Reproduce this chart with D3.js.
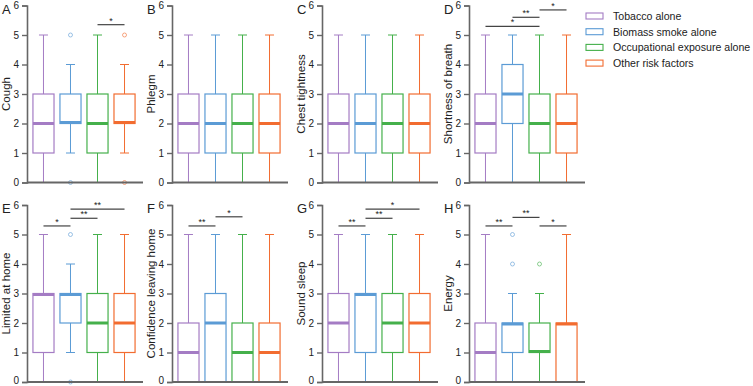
<!DOCTYPE html>
<html><head><meta charset="utf-8">
<script src="https://cdn.jsdelivr.net/npm/d3@7"></script>
<style>body{margin:0;background:#fff}svg{display:block;font-family:"Liberation Sans",Arial,sans-serif}</style>
</head><body><svg id="c" width="753" height="386"></svg>
<script>
const categories = ["Tobacco alone","Biomass smoke alone","Occupational exposure alone","Other risk factors"];
const colors = ["#a47cc4","#5b9bd5","#45b04b","#f26c30"];
const panelLetters = ["A","B","C","D","E","F","G","H"];
const panelTitles = ["Cough","Phlegm","Chest tightness","Shortness of breath","Limited at home","Confidence leaving home","Sound sleep","Energy"];
const yTicks = [0,1,2,3,4,5,6];
// [whisker low, q1, median, q3, whisker high] per category
const cough = [[0,1,2,3,5],[1,2,2,3,4],[0,1,2,3,5],[1,2,2,3,4]];
const phlegm = [[0,1,2,3,5],[0,1,2,3,5],[0,1,2,3,5],[0,1,2,3,5]];
const chest = [[0,1,2,3,5],[0,1,2,3,5],[0,1,2,3,5],[0,1,2,3,5]];
const breath = [[0,1,2,3,5],[0,2,3,4,5],[0,1,2,3,5],[0,1,2,3,5]];
const limited = [[0,1,3,3,5],[1,2,3,3,4],[0,1,2,3,5],[0,1,2,3,5]];
const confidence = [[0,0,1,2,5],[0,0,2,3,5],[0,0,1,2,5],[0,0,1,2,5]];
const sleep = [[0,1,2,3,5],[0,1,3,3,5],[0,1,2,3,5],[0,1,2,3,5]];
const energy = [[0,0,1,2,5],[0,1,2,2,3],[0,1,1,2,3],[0,0,2,2,5]];
// outliers per category
const coughOut = [[],[0,5],[],[0,5]];
const limitedOut = [[],[0,5],[],[]];
const energyOut = [[],[4,5],[4],[]];
const noOut = [[],[],[],[]];
// significance: [from, to, label, level]
const coughSig = [[2,3,"*",5.35]];
const breathSig = [[0,2,"*",5.29],[1,2,"**",5.6],[2,3,"*",5.85]];
const limitedSig = [[0,1,"*",5.29],[1,2,"**",5.55],[1,3,"**",5.86]];
const confidenceSig = [[0,1,"**",5.29],[1,2,"*",5.6]];
const sleepSig = [[0,1,"**",5.29],[1,2,"**",5.55],[1,3,"*",5.86]];
const energySig = [[0,1,"**",5.29],[1,2,"**",5.58],[2,3,"*",5.29]];

const stats = [cough,phlegm,chest,breath,limited,confidence,sleep,energy];
const outs = [coughOut,noOut,noOut,noOut,limitedOut,noOut,noOut,energyOut];
const sigs = [coughSig,[],[],breathSig,limitedSig,confidenceSig,sleepSig,energySig];

const svg = d3.select("#c");
const axisX = [27,172,322,469];
const rowY = [[182.5,5.5],[382,205]];
const W = 114;
const axisCol = "#666";

stats.forEach((st,p)=>{
  const col = p%4, row = Math.floor(p/4);
  const ox = axisX[col];
  const x = d3.scaleBand().domain(categories).range([ox, ox+W]).paddingInner(0.22).paddingOuter(0.22);
  const y = d3.scaleLinear().domain([0,6]).range(rowY[row]);
  const g = svg.append("g");
  const ya = g.append("g").attr("transform",`translate(${ox},0)`)
    .call(d3.axisLeft(y).tickValues(yTicks).tickSize(5).tickPadding(3).tickFormat(d3.format("d")));
  ya.select(".domain").attr("stroke",axisCol).attr("stroke-width",1.6);
  ya.selectAll(".tick line").attr("stroke",axisCol).attr("stroke-width",1.4);
  ya.selectAll(".tick text").attr("fill","#222").style("font-size","10px").style("font-family","Liberation Sans, Arial, sans-serif");
  if (row===1) ya.selectAll(".tick text").filter(d=>d===0).attr("y",-1.6);
  categories.forEach((c,i)=>{
    const s = st[i];
    const cx = x(c)+x.bandwidth()/2, bw = x.bandwidth();
    const clr = colors[i];
    g.append("line").attr("x1",cx).attr("x2",cx).attr("y1",y(s[0])).attr("y2",y(s[1])).attr("stroke",clr).attr("stroke-width",1);
    g.append("line").attr("x1",cx).attr("x2",cx).attr("y1",y(s[3])).attr("y2",y(s[4])).attr("stroke",clr).attr("stroke-width",1);
    [s[0],s[4]].forEach(v=>{
      if (v>0) g.append("line").attr("x1",cx-4.5).attr("x2",cx+4.5).attr("y1",y(v)).attr("y2",y(v)).attr("stroke",clr).attr("stroke-width",1);
    });
    g.append("rect").attr("x",x(c)).attr("width",bw).attr("y",y(s[3])).attr("height",y(s[1])-y(s[3]))
      .attr("fill","#fff").attr("stroke",clr).attr("stroke-width",1.2);
    let my = y(s[2]);
    if (s[2]===s[1]) my -= 1; else if (s[2]===s[3]) my += 1;
    g.append("line").attr("x1",x(c)).attr("x2",x(c)+bw).attr("y1",my).attr("y2",my).attr("stroke",clr).attr("stroke-width",3);
    outs[p][i].forEach(v=>{
      g.append("circle").attr("cx",cx).attr("cy",y(v)).attr("r",2).attr("fill","#fff").attr("stroke",clr).attr("stroke-opacity",0.6).attr("stroke-width",1);
    });
  });
  g.append("line").attr("x1",ox).attr("x2",ox+W+2).attr("y1",y(0)).attr("y2",y(0)).attr("stroke",axisCol).attr("stroke-width",1.8);
  sigs[p].forEach(([a,b,lab,lev])=>{
    const x1 = x(categories[a])+x.bandwidth()/2, x2 = x(categories[b])+x.bandwidth()/2;
    g.append("line").attr("x1",x1).attr("x2",x2).attr("y1",y(lev)).attr("y2",y(lev)).attr("stroke","#444").attr("stroke-width",1.2);
    g.append("text").attr("x",(x1+x2)/2).attr("y",y(lev)-1).attr("text-anchor","middle").attr("fill","#222").style("font-size","9px").text(lab);
  });
  g.append("text").attr("transform",`translate(${ox-17},${(rowY[row][0]+rowY[row][1])/2}) rotate(-90)`)
    .attr("text-anchor","middle").attr("fill","#222").style("font-size","11.5px").text(panelTitles[p]);
  g.append("text").attr("x",ox-25).attr("y",rowY[row][1]+8).attr("fill","#222").style("font-size","13px").text(panelLetters[p]);
});

const lg = svg.append("g");
categories.forEach((c,i)=>{
  const ly = 16 + i*15.7;
  lg.append("rect").attr("x",586).attr("y",ly-3).attr("width",17).attr("height",6).attr("fill","#fff").attr("stroke",colors[i]).attr("stroke-width",1.1);
  lg.append("text").attr("x",613).attr("y",ly+4).attr("fill","#222").style("font-size","10.6px").text(c);
});
</script></body></html>
